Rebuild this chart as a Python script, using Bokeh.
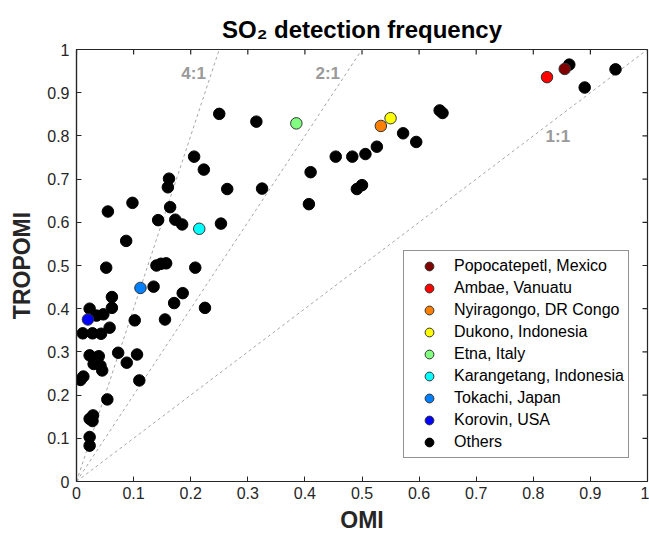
import math
from bokeh.plotting import figure
from bokeh.models import Legend, LegendItem, FixedTicker
from bokeh.core.properties import value
from bokeh.embed import file_html
from bokeh.resources import INLINE

# ---- data ----
volcano_names = ["Popocatepetl, Mexico", "Ambae, Vanuatu", "Nyiragongo, DR Congo",
                 "Dukono, Indonesia", "Etna, Italy", "Karangetang, Indonesia",
                 "Tokachi, Japan", "Korovin, USA"]
volcano_omi = [0.855, 0.824, 0.533, 0.550, 0.385, 0.215, 0.112, 0.020]
volcano_tropomi = [0.955, 0.936, 0.823, 0.841, 0.829, 0.585, 0.448, 0.375]
volcano_colors = ["#800000", "#ff0000", "#ff8000", "#ffff00", "#80ff80",
                  "#00ffff", "#0080ff", "#0000ff"]

others_omi = [0.863, 0.944, 0.890, 0.636, 0.641, 0.572, 0.595, 0.526, 0.506, 0.483,
              0.454, 0.410, 0.500, 0.491, 0.407,
              0.250, 0.315, 0.206, 0.223, 0.162, 0.160, 0.264, 0.325, 0.055, 0.098,
              0.164, 0.143, 0.173, 0.185, 0.253, 0.087,
              0.052, 0.140, 0.148, 0.157, 0.208, 0.135, 0.186, 0.171, 0.225, 0.062,
              0.062, 0.023, 0.047, 0.035, 0.102, 0.155, 0.058, 0.011, 0.028, 0.043,
              0.073, 0.106, 0.088, 0.023, 0.039, 0.030, 0.042, 0.045, 0.012, 0.007,
              0.110, 0.054, 0.029, 0.023, 0.028, 0.023, 0.023]
others_tropomi = [0.965, 0.954, 0.912, 0.859, 0.853, 0.806, 0.786, 0.775, 0.758, 0.752,
                  0.752, 0.716, 0.686, 0.677, 0.642,
                  0.851, 0.833, 0.752, 0.722, 0.701, 0.681, 0.677, 0.678, 0.625, 0.645,
                  0.635, 0.605, 0.606, 0.595, 0.597, 0.557,
                  0.495, 0.500, 0.504, 0.505, 0.495, 0.451, 0.436, 0.413, 0.402, 0.427,
                  0.402, 0.400, 0.387, 0.384, 0.373, 0.375, 0.356, 0.343, 0.343, 0.342,
                  0.298, 0.294, 0.275, 0.292, 0.290, 0.272, 0.268, 0.257, 0.243, 0.235,
                  0.234, 0.190, 0.153, 0.145, 0.140, 0.103, 0.083]

ratios = [1, 2, 4]
ratio_labels = ["1:1", "2:1", "4:1"]
ratio_label_x = [0.843, 0.44, 0.205]
ratio_label_y = [0.799, 0.945, 0.945]

ticks = [0, 0.1, 0.2, 0.3, 0.4, 0.5, 0.6, 0.7, 0.8, 0.9, 1]
tick_overrides = {0: "0", 1: "1"}

FONT = "Liberation Sans"
AXC = "#262626"

p = figure(width=649, height=537, x_range=(0, 1), y_range=(0, 1),
           output_backend="svg", toolbar_location=None,
           min_border_left=76, min_border_right=2, min_border_top=49, min_border_bottom=56,
           title="SO\u2082 detection frequency")
p.title.text_font = FONT
p.title.text_font_size = "24px"
p.title.text_font_style = "bold"
p.title.align = "center"
p.title.vertical_align = "top"
p.title.text_line_height = 1.5
p.title.text_color = "#000000"
p.xgrid.visible = False
p.ygrid.visible = False
p.outline_line_color = AXC
p.outline_line_width = 1.2
p.background_fill_color = "white"
p.border_fill_color = "white"

for ax in (p.xaxis[0], p.yaxis[0]):
    ax.ticker = FixedTicker(ticks=ticks)
    ax.major_tick_in = 5
    ax.major_tick_out = 0
    ax.minor_tick_line_color = None
    ax.axis_line_color = AXC
    ax.axis_line_width = 1.2
    ax.major_tick_line_color = AXC
    ax.major_label_overrides = tick_overrides
    ax.major_label_text_font = FONT
    ax.major_label_text_font_size = "16px"
    ax.major_label_text_color = AXC
    ax.axis_label_text_font = FONT
    ax.axis_label_text_font_size = "23px"
    ax.axis_label_text_font_style = "bold"
    ax.axis_label_text_color = AXC

p.xaxis.axis_label = "OMI"
p.yaxis.axis_label = "TROPOMI"
p.xaxis[0].major_label_standoff = 5
p.xaxis[0].axis_label_standoff = 5
p.yaxis[0].major_label_standoff = 7
p.yaxis[0].axis_label_standoff = 9

# tick marks on the top and right edges of the box
p.scatter(x=ticks, y=[1] * len(ticks), marker="dash", angle=math.pi / 2, size=10,
          line_color=AXC, line_width=1.2)
p.scatter(x=[1] * len(ticks), y=ticks, marker="dash", size=10,
          line_color=AXC, line_width=1.2)

# reference ratio lines
for r in ratios:
    xe = min(1.0, 1.0 / r)
    p.line([0, xe], [0, r * xe], line_color="#a6a6a6", line_dash="3 3", line_width=1)

p.text(x=ratio_label_x, y=ratio_label_y, text=ratio_labels,
       text_font=value(FONT), text_font_style="bold", text_font_size="17px",
       text_color="#9a9a9a", text_align="center", text_baseline="middle")

others = p.scatter(others_omi, others_tropomi, size=11.5, fill_color="black", line_color="black")

items = []
for name, xo, yt, c in zip(volcano_names, volcano_omi, volcano_tropomi, volcano_colors):
    r = p.scatter([xo], [yt], size=11.5, fill_color=c, line_color="#333333", line_width=1)
    items.append(LegendItem(label=name, renderers=[r]))
items.append(LegendItem(label="Others", renderers=[others]))

legend = Legend(items=items, location=(327, 23), padding=4, spacing=0,
                glyph_width=42, glyph_height=22, label_height=22, label_standoff=4,
                label_text_font=FONT, label_text_font_size="16px", label_text_color="#000000",
                border_line_color=AXC, border_line_width=1.2, margin=0)
p.add_layout(legend, "center")

open("out.html", "w").write(file_html(p, INLINE))
